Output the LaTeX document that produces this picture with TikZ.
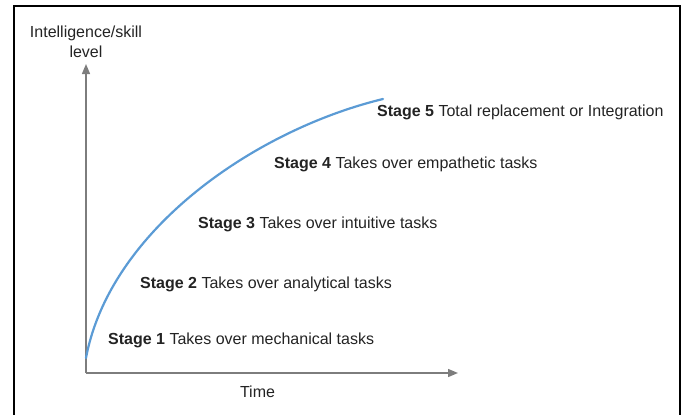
\documentclass[tikz,border=0pt]{standalone}
\usepackage{fontspec}
\setmainfont{Liberation Sans}
\usetikzlibrary{arrows.meta}
\definecolor{axisgray}{RGB}{125,125,125}
\definecolor{curveblue}{RGB}{91,155,213}
\definecolor{txt}{RGB}{35,35,35}
\begin{document}
\begin{tikzpicture}[x=1pt,y=-1pt,
  lbl/.style={anchor=base west,inner sep=0pt,text=txt,font=\fontsize{16}{19.5}\selectfont},
  axis/.style={draw=axisgray,line width=1.4pt,-{Triangle[length=10pt,width=8pt]}},
  frameline/.style={draw=black,line width=2pt}]
\useasboundingbox (0,0) rectangle (683,415);
\draw[frameline] (14,420) -- (14,6) -- (680,6) -- (680,420);
\coordinate (o) at (86,373);
\coordinate (ytip) at (86,64);
\coordinate (xtip) at (458,373);
\coordinate (cs) at (86,358);
\coordinate (ce) at (383,99);
\draw[axis] (o) -- (ytip);
\draw[axis] (o) -- (xtip);
\draw[curveblue,line width=2.2pt,line cap=round] (cs) .. controls (110,230) and (255,130) .. (ce);
\node[lbl,anchor=base,align=center] (ylab) at (86,57) {Intelligence/skill\\level};
\node[lbl,anchor=base] (xlab) at (257.5,397) {Time};
\node[lbl] (s5) at (377,116) {\textbf{Stage 5} Total replacement or Integration};
\node[lbl] (s4) at (274,168) {\textbf{Stage 4} Takes over empathetic tasks};
\node[lbl] (s3) at (198,228) {\textbf{Stage 3} Takes over intuitive tasks};
\node[lbl] (s2) at (140,288) {\textbf{Stage 2} Takes over analytical tasks};
\node[lbl] (s1) at (108,344) {\textbf{Stage 1} Takes over mechanical tasks};
\end{tikzpicture}
\end{document}
